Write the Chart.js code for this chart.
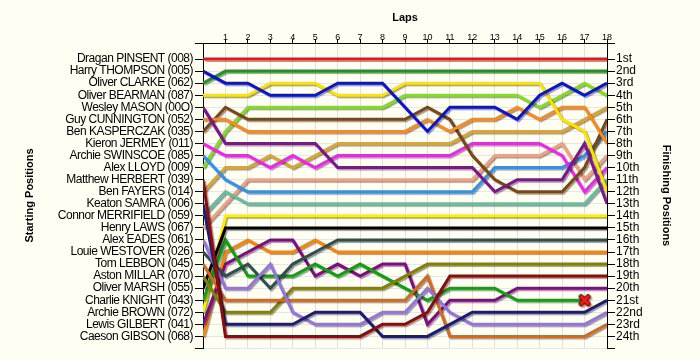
<!DOCTYPE html>
<html><head><meta charset="utf-8">
<script src="https://cdn.jsdelivr.net/npm/chart.js@4.4.1/dist/chart.umd.min.js"></script>
<style>html,body{margin:0;padding:0;background:#fffef3;}#wrap{width:700px;height:360px;}</style>
</head><body><div id="wrap"><canvas id="c" width="700" height="360"></canvas></div>
<script>
const laps = [0,1,2,3,4,5,6,7,8,9,10,11,12,13,14,15,16,17,18];
const drivers = ["Dragan PINSENT (008)","Harry THOMPSON (005)","Oliver CLARKE (062)","Oliver BEARMAN (087)","Wesley MASON (00O)","Guy CUNNINGTON (052)","Ben KASPERCZAK (035)","Kieron JERMEY (011)","Archie SWINSCOE (085)","Alex LLOYD (009)","Matthew HERBERT (039)","Ben FAYERS (014)","Keaton SAMRA (006)","Connor MERRIFIELD (059)","Henry LAWS (067)","Alex EADES (061)","Louie WESTOVER (026)","Tom LEBBON (045)","Aston MILLAR (070)","Oliver MARSH (055)","Charlie KNIGHT (043)","Archie BROWN (072)","Lewis GILBERT (041)","Caeson GIBSON (068)"];
const finishLabels = ["1st","2nd","3rd","4th","5th","6th","7th","8th","9th","10th","11th","12th","13th","14th","15th","16th","17th","18th","19th","20th","21st","22nd","23rd","24th"];

const pinsent    = [1,1,1,1,1,1,1,1,1,1,1,1,1,1,1,1,1,1,1];
const thompson   = [2,3,3,4,4,4,3,3,3,5,7,5,5,5,6,4,3,4,3];
const clarke     = [3,2,2,2,2,2,2,2,2,2,2,2,2,2,2,2,2,2,2];
const bearman    = [4,4,4,3,3,3,4,4,4,3,3,3,3,3,3,3,6,7,12];
const mason      = [5,8,8,8,8,8,10,10,10,10,10,10,10,12,11,11,11,8,13];
const cunnington = [6,6,7,7,7,7,7,7,7,7,6,7,6,6,5,6,5,5,8];
const kasperczak = [7,5,6,6,6,6,6,6,6,6,5,6,9,11,12,12,12,10,6];
const jermey     = [8,9,9,10,9,10,9,9,9,9,9,9,8,8,8,8,9,12,10];
const swinscoe   = [9,11,12,12,12,12,12,12,12,12,12,12,12,10,10,10,10,9,7];
const lloyd      = [10,7,5,5,5,5,5,5,5,4,4,4,4,4,4,5,4,3,4];
const herbert    = [11,24,24,24,24,24,24,24,23,23,22,19,19,19,19,19,19,19,19];
const fayers     = [12,10,10,9,10,9,8,8,8,8,8,8,7,7,7,7,7,6,5];
const samra      = [13,23,23,23,23,22,22,22,24,24,24,23,22,22,22,22,22,22,21];
const merrifield = [14,12,13,13,13,13,13,13,13,13,13,13,13,13,13,13,13,13,11];
const laws       = [15,13,11,11,11,11,11,11,11,11,11,11,11,9,9,9,8,11,9];
const eades      = [16,20,20,18,22,23,23,23,22,22,20,22,23,23,23,23,23,23,22];
const westover   = [17,19,18,20,18,17,16,16,16,16,16,16,16,16,16,16,16,16,16];
const lebbon     = [18,21,21,21,21,21,21,21,21,21,19,24,24,24,24,24,24,24,23];
const millar     = [19,22,22,22,20,20,20,20,20,19,18,18,18,18,18,18,18,18,18];
const marsh      = [20,15,15,15,15,15,15,15,15,15,15,15,15,15,15,15,15,15,15];
const knight     = [21,16,19,19,19,18,19,18,19,20,21,20,20,20,21,21,21,21,null];
const brown      = [22,14,14,14,14,14,14,14,14,14,14,14,14,14,14,14,14,14,14];
const gilbert    = [23,18,17,16,16,19,18,19,18,18,23,21,21,21,20,20,20,20,20];
const gibson     = [24,17,16,17,17,16,17,17,17,17,17,17,17,17,17,17,17,17,17];
const retiredDriver = 20;   // index of Charlie KNIGHT
const retiredLap = 17;

const series = [pinsent,thompson,clarke,bearman,mason,cunnington,kasperczak,jermey,swinscoe,lloyd,herbert,fayers,samra,merrifield,laws,eades,westover,lebbon,millar,marsh,knight,brown,gilbert,gibson];
const colors = ["#ec1414","#0c14cc","#1e961e","#fbe400","#7c168a","#fb8a1e","#7a4814","#f422f0","#2e92f0","#80e01c","#8c0c0c","#dba62a","#1c1c72","#62c0a0","#f4a07e","#9575dc","#2f4f4f","#d26a20","#848000","#000000","#12a012","#fff000","#800c84","#ff8200"];

const xMark = document.createElement('canvas');
xMark.width = 14; xMark.height = 14;
(function(){const g=xMark.getContext('2d');g.lineCap='round';
 g.strokeStyle='#6a0000';g.lineWidth=5;g.beginPath();g.moveTo(3.5,3.5);g.lineTo(10.5,10.5);g.moveTo(10.5,3.5);g.lineTo(3.5,10.5);g.stroke();
 g.strokeStyle='#ff1a1a';g.lineWidth=3;g.beginPath();g.moveTo(3.5,3.5);g.lineTo(10.5,10.5);g.moveTo(10.5,3.5);g.lineTo(3.5,10.5);g.stroke();})();

const datasets = series.map((s,i)=>({
  label: drivers[i],
  data: s.map((p,k)=>({x: laps[k], y: p})),
  borderColor: colors[i], backgroundColor: colors[i], borderWidth: 3,
  tension: 0, fill: false, spanGaps: false, borderJoinStyle: 'miter',
  pointRadius: i===retiredDriver ? (c)=> (c.dataIndex===retiredLap ? 7 : 0) : 0,
  pointStyle: xMark, pointHoverRadius: 0,
  yAxisID: 'y', xAxisID: 'x'
}));

const bg = {id:'bg', beforeDraw(ch){const c=ch.ctx;c.save();c.fillStyle='#fffef3';c.fillRect(0,0,ch.width,ch.height);c.restore();}};
const shadow = {id:'shadow',
  beforeDatasetDraw(ch){const c=ch.ctx;c.save();c.shadowColor='rgba(0,0,0,0.38)';c.shadowBlur=1;c.shadowOffsetX=1.5;c.shadowOffsetY=1.5;},
  afterDatasetDraw(ch){ch.ctx.restore();}};

const FONT = "'Liberation Sans', Arial, sans-serif";
const YMIN = -0.33, YMAX = 24.96;
function posTicks(scale){const t=[{value:YMIN}];for(let i=1;i<=drivers.length;i++)t.push({value:i});t.push({value:YMAX});scale.ticks=t;}

const chart = new Chart(document.getElementById('c'), {
  type: 'line',
  data: { datasets },
  plugins: [bg, shadow],
  options: {
    responsive: false, animation: false, events: [],
    layout: { padding: { left: 0, right: 0, top: 0, bottom: 12 } },
    plugins: { legend: { display: false }, tooltip: { enabled: false } },
    scales: {
      x: {
        type: 'linear', position: 'top', min: 0, max: 18,
        afterBuildTicks(s){ s.ticks = laps.slice(1).map(v=>({value:v})); },
        afterFit(s){ s.height = 43; },
        ticks: { autoSkip: false, maxRotation: 0, color: '#000', padding: -3,
                 font: { family: FONT, size: 9, lineHeight: 1 } },
        grid: { color: '#e0e0e0', lineWidth: 1, tickColor: '#000', tickLength: 4 },
        border: { color: '#000', width: 1 },
        title: { display: true, text: 'Laps', color: '#000', padding: { top: 11, bottom: 0 },
                 font: { family: FONT, size: 11, weight: 'bold' } }
      },
      y: {
        type: 'linear', position: 'left', reverse: true, min: YMIN, max: YMAX,
        afterBuildTicks: posTicks,
        afterFit(s){ s.width = 203; },
        ticks: { autoSkip: false, color: '#000', padding: 2,
                 font: { family: FONT, size: 12 },
                 callback: (v)=> Number.isInteger(v) ? drivers[v-1] : '' },
        grid: { color: '#e6e6e6', lineWidth: 1, tickColor: '#000', tickLength: 8 },
        border: { color: '#000', width: 1 },
        title: { display: true, text: 'Starting Positions', color: '#000', padding: { top: 23, bottom: 0 },
                 font: { family: FONT, size: 11, weight: 'bold' } }
      },
      y2: {
        type: 'linear', position: 'right', reverse: true, min: YMIN, max: YMAX,
        afterBuildTicks: posTicks,
        afterFit(s){ s.width = 93; },
        ticks: { autoSkip: false, color: '#000', padding: 1,
                 font: { family: FONT, size: 12 },
                 callback: (v)=> Number.isInteger(v) ? finishLabels[v-1] : '' },
        grid: { drawOnChartArea: false, tickColor: '#000', tickLength: 8 },
        border: { color: '#000', width: 1 },
        title: { display: true, text: 'Finishing Positions', color: '#000', padding: { top: 27, bottom: 0 },
                 font: { family: FONT, size: 11, weight: 'bold' } }
      }
    }
  }
});
// slightly tighter letter spacing for the driver names, as in the reference
const ys = chart.scales.y;
const origLabels = ys.drawLabels;
ys.drawLabels = function(area){ const c = this.ctx; c.save(); c.letterSpacing = '-0.5px'; origLabels.call(this, area); c.restore(); };
chart.draw();
</script></body></html>
